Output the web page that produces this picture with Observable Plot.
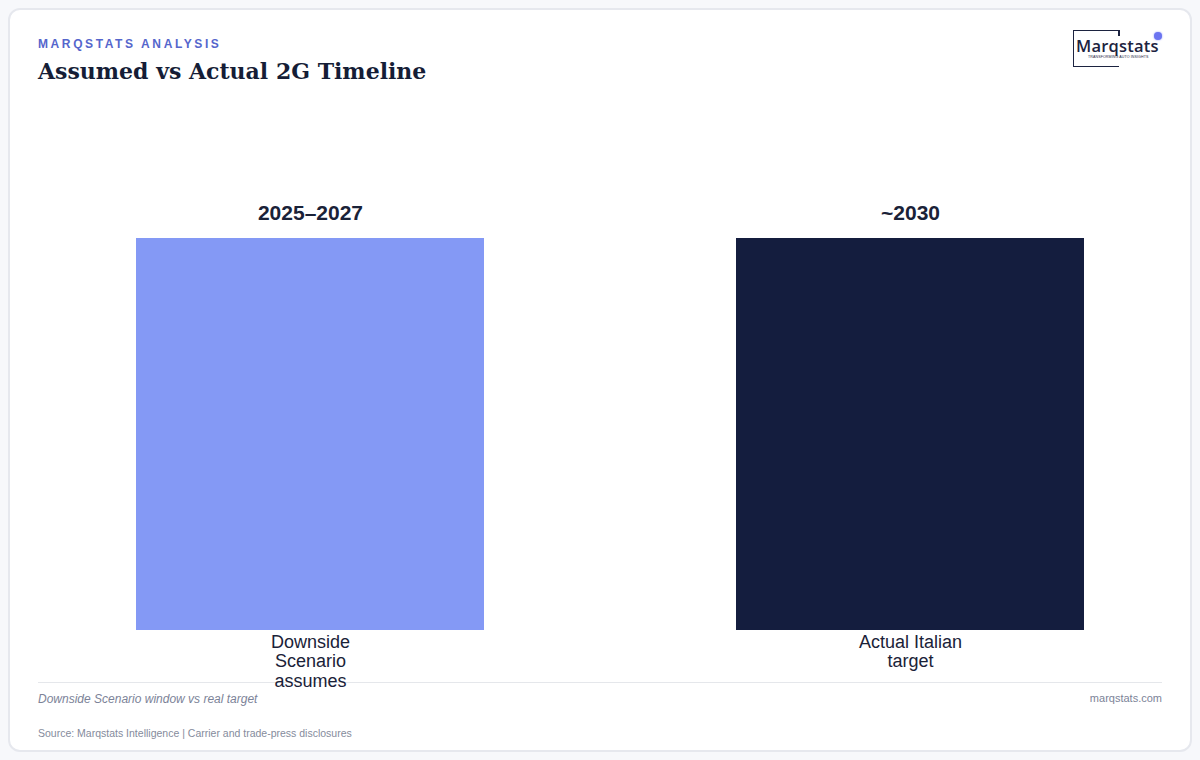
<!DOCTYPE html>
<html>
<head>
<meta charset="utf-8">
<script src="https://cdn.jsdelivr.net/npm/d3@7"></script>
<script src="https://cdn.jsdelivr.net/npm/@observablehq/plot@0.6"></script>
<style>
  html, body { margin: 0; padding: 0; background: #f7f8fb; }
  body { width: 1200px; height: 760px; position: relative; font-family: "Liberation Sans", Arial, sans-serif; }
  .card { position: absolute; left: 8px; top: 8px; width: 1180px; height: 740px; background: #fff;
          border: 2px solid #e6e8ee; border-radius: 12px; }
  .kicker { position: absolute; left: 38px; top: 37px; font-size: 12px; font-weight: 700; letter-spacing: 2.6px;
            color: #5566cc; }
  .title { position: absolute; left: 38px; top: 58px; font-family: "DejaVu Serif", Georgia, serif; font-weight: 700;
           font-size: 22px; color: #151d36; }
  #chart { position: absolute; left: 38px; top: 100px; width: 1124px; z-index: 2; }
  .footer { position: absolute; left: 38px; top: 682px; width: 1124px; border-top: 1px solid #e5e7eb; z-index: 1; }
  .cap { position: absolute; left: 0; top: 9px; font-size: 12px; font-style: italic; color: #7c8398; white-space: nowrap; }
  .site { position: absolute; right: 0; top: 9px; font-size: 11px; color: #7c8398; }
  .src { position: absolute; left: 0; top: 44px; font-size: 10.5px; color: #858b9c; white-space: nowrap; }
  .logo { position: absolute; left: 1073px; top: 30px; width: 90px; height: 38px; }
  .logo .box { position: absolute; left: 0; top: 0; width: 45px; height: 35px; border: 1.5px solid #1c2340; border-right: none; }
  .logo .rs { position: absolute; left: 45px; top: 0; width: 1.5px; height: 9px; background: #1c2340; }
  .logo .name { position: absolute; left: 2px; top: 6px; font-family: "Open Sans", sans-serif; font-size: 16.5px; font-weight: 600; color: #1c2340; letter-spacing: 0.2px; background: #fff; padding: 0 1px; line-height: 20px; }
  .logo .tag { position: absolute; left: 15px; top: 25px; font-size: 3.6px; color: #1c2340; letter-spacing: 0.1px; white-space: nowrap; }
  .logo .dot { position: absolute; left: 81px; top: 2px; width: 8px; height: 8px; border-radius: 50%; background: #6b74f0; box-shadow: 0 0 2px #8a93ff; }
</style>
</head>
<body>
<div class="card"></div>
<div class="kicker">MARQSTATS ANALYSIS</div>
<div class="title">Assumed vs Actual 2G Timeline</div>
<div class="logo">
  <div class="box"></div><div class="rs"></div>
  <div class="name">Marqstats</div>
  <div class="tag">TRANSFORMING AUTO INSIGHTS</div>
  <div class="dot"></div>
</div>
<div class="footer">
  <div class="cap">Downside Scenario window vs real target</div>
  <div class="site">marqstats.com</div>
  <div class="src">Source: Marqstats Intelligence | Carrier and trade-press disclosures</div>
</div>
<div id="chart"></div>
<script>
const categories = ["Downside Scenario assumes", "Actual Italian target"];
const values = [1, 1];
const valueLabels = ["2025\u20132027", "~2030"];
const barColors = ["#8499f5", "#141d3e"];

const data = categories.map((c, i) => ({category: c, value: values[i], label: valueLabels[i], color: barColors[i]}));

const chart = Plot.plot({
  width: 1124,
  height: 600,
  marginTop: 138,
  marginBottom: 70,
  marginLeft: 20,
  marginRight: 0,
  style: {fontFamily: "'Liberation Sans', Arial, sans-serif", background: "transparent", overflow: "visible"},
  x: {domain: categories, paddingInner: 0.42, paddingOuter: 0.13, label: null},
  y: {domain: [0, 1], axis: null},
  marks: [
    Plot.barY(data, {x: "category", y: "value", fill: "color"}),
    Plot.text(data, {x: "category", y: "value", text: "label", dy: -25, fontSize: 21, fontWeight: "bold", fill: "#1a2238"}),
    Plot.axisX({tickSize: 0, tickPadding: 3, fontSize: 18, lineWidth: 7, lineHeight: 1.1, fill: "#1a2238", label: null})
  ]
});
document.getElementById("chart").appendChild(chart);
</script>
</body>
</html>
